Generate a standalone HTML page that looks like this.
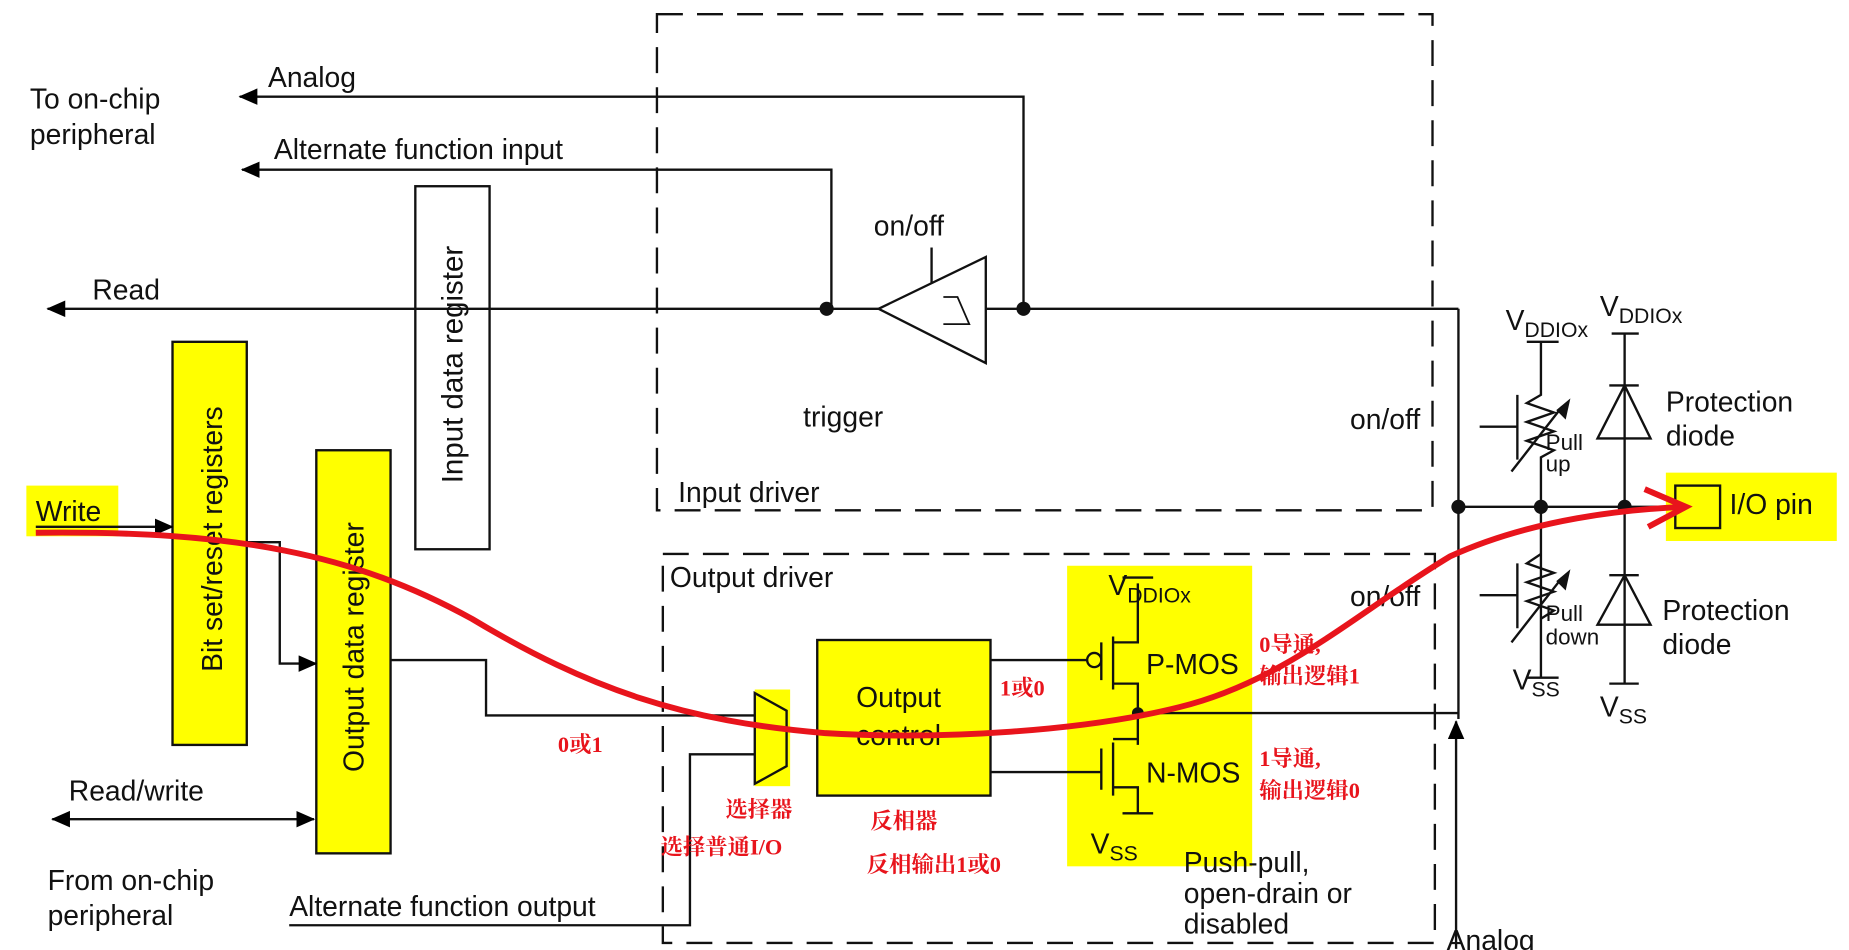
<!DOCTYPE html>
<html><head><meta charset="utf-8"><style>
html,body{margin:0;padding:0;background:#fff;}
svg{display:block}
text{font-family:"Liberation Sans","Noto Sans CJK SC",sans-serif;fill:#111;}
.cn{font-family:"Liberation Serif","Noto Serif CJK SC",serif;fill:#e8141c;font-size:19px;font-weight:bold}
</style></head><body>
<svg width="1849" height="950" viewBox="0 0 1568 806" xmlns="http://www.w3.org/2000/svg">
<defs>
<marker id="ar" markerWidth="16" markerHeight="16" refX="15" refY="7" orient="auto-start-reverse" markerUnits="userSpaceOnUse"><path d="M0,0 L16,7 L0,14 z" fill="#000"/></marker>
</defs>
<g stroke="#111" stroke-width="2" fill="none">
<rect x="557" y="12" width="658" height="421" stroke-dasharray="22,12"/>
<rect x="562" y="470" width="655" height="330" stroke-dasharray="22,12"/>
</g>
<g fill="#ffff00">
<rect x="22" y="412" width="78" height="43"/>
<rect x="146" y="290" width="63" height="342"/>
<rect x="268" y="382" width="63" height="342"/>
<rect x="640" y="585" width="30" height="82"/>
<rect x="693" y="543" width="147" height="132"/>
<rect x="905" y="480" width="157" height="255"/>
<rect x="1413" y="401" width="145" height="58"/>
</g>
<g stroke="#111" stroke-width="2" fill="none">
<rect x="146" y="290" width="63" height="342"/>
<rect x="268" y="382" width="63" height="342"/>
<rect x="352" y="158" width="63" height="308" fill="#fff"/>
<rect x="693" y="543" width="147" height="132"/>
<rect x="1421" y="412" width="38" height="36"/>
<path d="M868,262 V82 H203" marker-end="url(#ar)"/>
<path d="M705,262 V144 H205" marker-end="url(#ar)"/>
<path d="M1237,262 H40" marker-end="url(#ar)"/>
<path d="M1237,262 V610"/>
<path d="M965,605 H1237"/>
<path d="M1235,805 V612" marker-end="url(#ar)"/>
<path d="M1237,430 H1420"/>
<path d="M745,262 L836,218 L836,308 Z" fill="#fff"/>
<path d="M790,210 V240"/>
<path d="M800,275 H822 L812,252 H800 M812,252 L822,275" stroke-width="1.5"/>
<path d="M30,447 H146" marker-end="url(#ar)"/>
<path d="M209,460 H237 V563 H268" marker-end="url(#ar)"/>
<path d="M331,560 H412 V607 H640"/>
<path d="M640,588 L667,603 L667,650 L640,665 Z"/>
<path d="M245,785 H585 V640 H640"/>
<path d="M44,695 H266" marker-end="url(#ar)" marker-start="url(#ar)"/>
<path d="M840,560 H922"/>
<circle cx="928" cy="560" r="6"/>
<path d="M934,545 V577 M944,540 V585 M944,545 H965 V495 M952,490 H978 M944,580 H965 V632 M944,627 H965 M944,630 V675 M934,635 V670 M840,655 H934 M944,668 H965 V690 M952,690 H978"/>
<path d="M1295,290 H1322 M1307,290 V335 L1295,342 L1318,350 L1295,358 L1318,366 L1295,374 L1318,382 L1307,388 V575 M1295,575 H1322"/>
<path d="M1287,335 V390 M1255,362 H1287 M1282,400 L1325,345"/>
<path d="M1307,470 L1295,478 L1318,486 L1295,494 L1318,502 L1295,510 L1318,518 L1307,525"/>
<path d="M1287,478 V533 M1255,505 H1287 M1282,545 L1325,490"/>
<path d="M1378,283 V580 M1367,283 H1390 M1365,327 H1390 M1355,372 H1400 L1378,327 Z M1365,488 H1390 M1355,530 H1400 L1378,488 Z M1365,580 H1390" fill="#fff"/>
</g>
<path d="M1332,338 L1320,348 L1328,356 Z M1332,483 L1320,493 L1328,501 Z" fill="#111"/>
<g fill="#111">
<circle cx="701" cy="262" r="6"/><circle cx="868" cy="262" r="6"/>
<circle cx="965" cy="605" r="5"/>
<circle cx="1237" cy="430" r="6"/><circle cx="1307" cy="430" r="6"/><circle cx="1378" cy="430" r="6"/>
</g>
<g font-size="24">
<text x="227" y="74">Analog</text>
<text x="25" y="92">To on-chip</text>
<text x="25" y="122">peripheral</text>
<text x="232" y="135">Alternate function input</text>
<text x="78" y="254">Read</text>
<text x="741" y="200">on/off</text>
<text x="681" y="362">trigger</text>
<text x="1145" y="364">on/off</text>
<text x="575" y="426">Input driver</text>
<text x="568" y="498">Output driver</text>
<text x="1145" y="514">on/off</text>
<text x="30" y="442">Write</text>
<text x="58" y="679">Read/write</text>
<text x="40" y="755">From on-chip</text>
<text x="40" y="785">peripheral</text>
<text x="245" y="777">Alternate function output</text>
<text x="726" y="600">Output</text>
<text x="726" y="632">control</text>
<text x="972" y="572">P-MOS</text>
<text x="972" y="664">N-MOS</text>
<text x="1004" y="740">Push-pull,</text>
<text x="1004" y="766">open-drain or</text>
<text x="1004" y="792">disabled</text>
<text x="1227" y="806">Analog</text>
<text x="1413" y="349">Protection</text>
<text x="1413" y="378">diode</text>
<text x="1410" y="526">Protection</text>
<text x="1410" y="555">diode</text>
<text x="1467" y="436">I/O pin</text>
<text x="1311" y="382" font-size="19">Pull</text>
<text x="1311" y="400" font-size="19">up</text>
<text x="1311" y="527" font-size="19">Pull</text>
<text x="1311" y="547" font-size="19">down</text>
<text x="940" y="505">V<tspan font-size="18" dy="6">DDIOx</tspan></text>
<text x="925" y="724">V<tspan font-size="18" dy="6">SS</tspan></text>
<text x="1277" y="280">V<tspan font-size="18" dy="6">DDIOx</tspan></text>
<text x="1357" y="268">V<tspan font-size="18" dy="6">DDIOx</tspan></text>
<text x="1283" y="585">V<tspan font-size="18" dy="6">SS</tspan></text>
<text x="1357" y="608">V<tspan font-size="18" dy="6">SS</tspan></text>
<text transform="translate(188,570) rotate(-90)" font-size="24">Bit set/reset registers</text>
<text transform="translate(308,655) rotate(-90)" font-size="24">Output data register</text>
<text transform="translate(392,410) rotate(-90)" font-size="25">Input data register</text>
</g>
<g>
<text class="cn" x="473" y="638">0或1</text>
<text class="cn" x="848" y="590">1或0</text>
<text class="cn" x="1068" y="553">0导通,</text>
<text class="cn" x="1068" y="580">输出逻辑1</text>
<text class="cn" x="1068" y="650">1导通,</text>
<text class="cn" x="1068" y="677">输出逻辑0</text>
<text class="cn" x="615" y="693">选择器</text>
<text class="cn" x="560" y="725">选择普通I/O</text>
<text class="cn" x="738" y="703">反相器</text>
<text class="cn" x="735" y="740">反相输出1或0</text>
</g>
<path d="M30,452 C200,450 300,470 400,525 C500,585 580,612 700,622 C800,628 920,620 1000,600 C1090,578 1150,520 1230,472 C1300,440 1380,432 1430,430" fill="none" stroke="#e8141c" stroke-width="5"/>
<path d="M1395,415 L1430,430 L1398,447" fill="none" stroke="#e8141c" stroke-width="5"/>
</svg>
</body></html>
